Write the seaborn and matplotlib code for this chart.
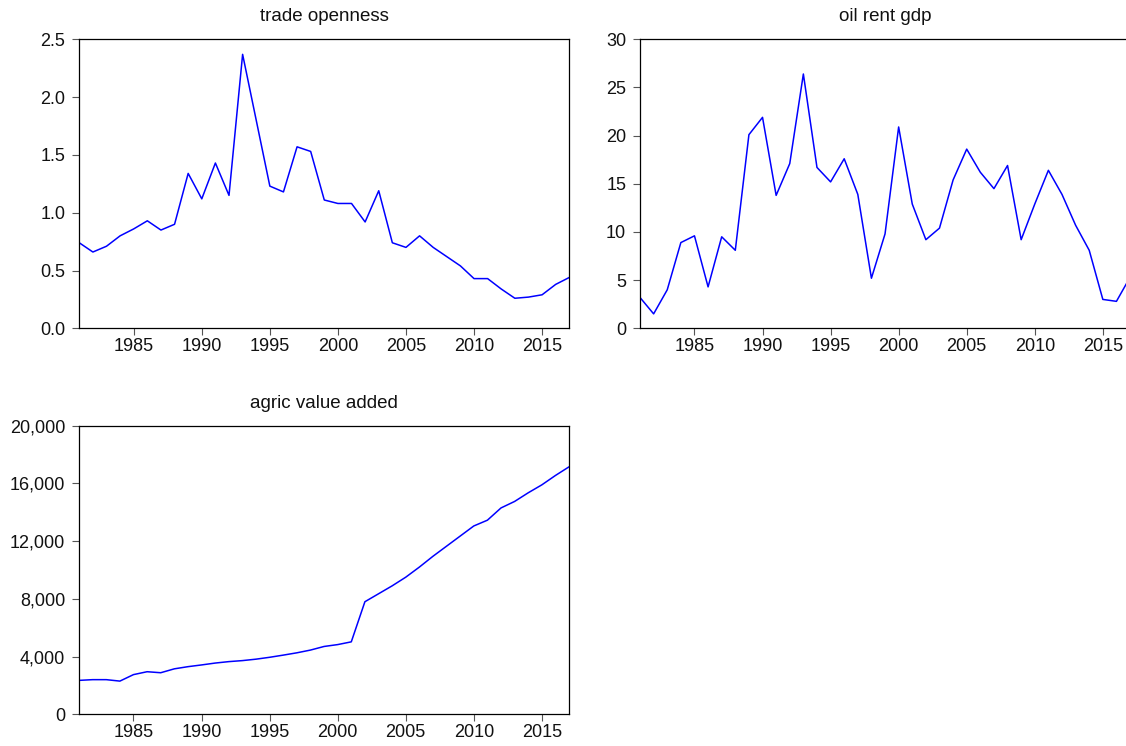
import numpy as np
import pandas as pd
import matplotlib
matplotlib.use("Agg")
import matplotlib.pyplot as plt
import matplotlib.ticker as mticker
import seaborn as sns

years = list(range(1981, 2018))

trade_openness = [0.74, 0.66, 0.71, 0.80, 0.86, 0.93, 0.85, 0.90, 1.34, 1.12,
                  1.43, 1.15, 2.37, 1.80, 1.23, 1.18, 1.57, 1.53, 1.11, 1.08,
                  1.08, 0.92, 1.19, 0.74, 0.70, 0.80, 0.70, 0.62, 0.54, 0.43,
                  0.43, 0.34, 0.26, 0.27, 0.29, 0.38, 0.44]

oil_rent_gdp = [3.2, 1.5, 4.0, 8.9, 9.6, 4.3, 9.5, 8.1, 20.1, 21.9,
                13.8, 17.1, 26.4, 16.7, 15.2, 17.6, 13.9, 5.2, 9.8, 20.9,
                12.9, 9.2, 10.4, 15.4, 18.6, 16.2, 14.5, 16.9, 9.2, 12.9,
                16.4, 13.9, 10.7, 8.1, 3.0, 2.8, 5.3]

agric_value_added = [2350, 2400, 2400, 2300, 2750, 2950, 2880, 3150, 3300, 3420,
                     3550, 3650, 3720, 3820, 3950, 4100, 4260, 4450, 4700, 4830,
                     5020, 7800, 8350, 8900, 9500, 10200, 10950, 11650, 12350, 13050,
                     13450, 14300, 14750, 15350, 15900, 16550, 17150]

titles = ["trade openness", "oil rent gdp", "agric value added"]

df = pd.DataFrame({
    "year": years,
    "trade openness": trade_openness,
    "oil rent gdp": oil_rent_gdp,
    "agric value added": agric_value_added,
})

sns.set_style("ticks")
plt.rcParams['font.family'] = ['Liberation Sans', 'DejaVu Sans']

fig = plt.figure(figsize=(11.26, 7.46), dpi=100)

# panel positions (left, bottom, width, height); second panel runs off the right edge
positions = [
    [0.0704, 0.5599, 0.4352, 0.3874],
    [0.5684, 0.5599, 0.4352, 0.3874],
    [0.0702, 0.0425, 0.4352, 0.3869],
]
ylims = [(0, 2.5), (0, 30), (0, 20000)]
yticks = [np.arange(0, 2.51, 0.5), np.arange(0, 31, 5), np.arange(0, 20001, 4000)]

for i, name in enumerate(titles):
    ax = fig.add_axes(positions[i])
    sns.lineplot(data=df, x="year", y=name, ax=ax, color="#0000ff", linewidth=1.1)
    ax.set_xlim(1981, 2017)
    ax.set_ylim(*ylims[i])
    ax.set_xticks([1985, 1990, 1995, 2000, 2005, 2010, 2015])
    ax.set_yticks(yticks[i])
    if i == 0:
        ax.yaxis.set_major_formatter(mticker.FormatStrFormatter('%.1f'))
    elif i == 2:
        ax.yaxis.set_major_formatter(mticker.StrMethodFormatter('{x:,.0f}'))
    ax.set_xlabel("")
    ax.set_ylabel("")
    ax.set_title(name, fontsize=13.5, pad=13, color="#111111")
    for s in ax.spines.values():
        s.set_visible(True)
        s.set_color("black")
        s.set_linewidth(0.9)
    if i == 1:
        ax.spines["right"].set_visible(False)
    ax.tick_params(axis="both", direction="out", length=5, width=0.8,
                   color="#555555", labelsize=13, labelcolor="#111111")
    ax.tick_params(axis="y", pad=5)
    ax.tick_params(axis="x", pad=2)

fig.savefig("out.png", dpi=100)
